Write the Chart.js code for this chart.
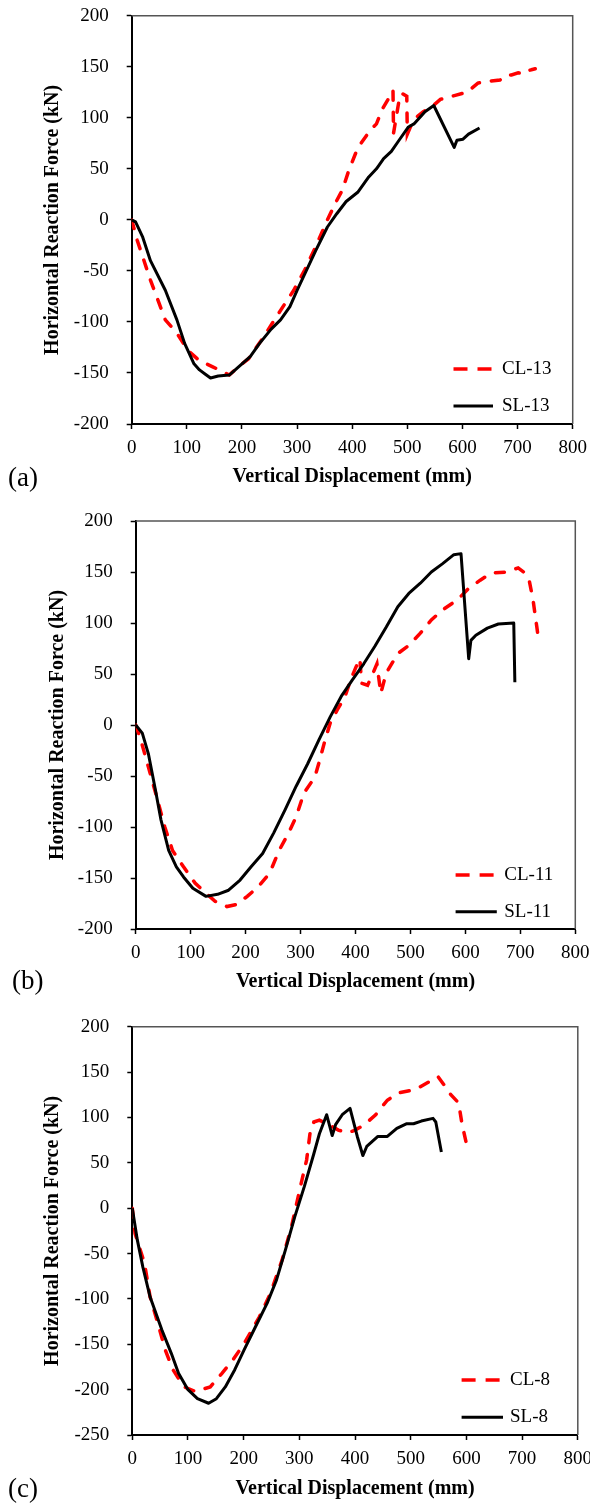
<!DOCTYPE html>
<html>
<head>
<meta charset="utf-8">
<script src="https://cdn.jsdelivr.net/npm/chart.js@4.4.1/dist/chart.umd.min.js"></script>
<style>
  body { margin: 0; background: #fff; width: 590px; height: 1506px; position: relative; overflow: hidden; }
  canvas { position: absolute; left: 0; }
  .tag { position: absolute; font-family: 'Liberation Serif', 'Times New Roman', serif; font-size: 27px; line-height: 1; color: #000; }
</style>
</head>
<body>
<canvas id="chartA" width="590" height="500" style="top:0"></canvas>
<canvas id="chartB" width="590" height="500" style="top:500px"></canvas>
<canvas id="chartC" width="590" height="506" style="top:1000px"></canvas>
<div class="tag" style="left:8px;top:464px">(a)</div>
<div class="tag" style="left:12px;top:967px">(b)</div>
<div class="tag" style="left:8px;top:1475px">(c)</div>
<script>
// (a) CL-13 / SL-13
var cl13X = [0, 10, 34, 61, 82, 102, 123, 147, 177, 198, 212, 239, 266, 294, 314, 334, 355, 372, 382, 393, 406, 416, 433, 444, 454, 464, 474, 475, 485, 490, 499, 500, 511, 529, 547, 560, 587, 608, 628, 650, 668, 680, 689, 701, 710, 717, 725, 732];
var cl13Y = [0, -20, -59, -98, -111, -128, -138, -144, -152, -142, -136, -115, -92, -69, -49, -26, 0, 19, 29, 47, 65, 75, 88, 94, 108, 117, 127, 85, 117, 124, 121, 84, 98, 106, 112, 118, 122, 125, 134, 136, 137, 142, 142, 144, 143, 146, 147, 148];
var sl13X = [0, 7, 20, 34, 61, 82, 96, 113, 123, 133, 143, 157, 177, 198, 215, 232, 253, 270, 287, 300, 314, 334, 355, 372, 389, 410, 430, 444, 457, 471, 485, 502, 512, 532, 548, 585, 590, 601, 611, 631];
var sl13Y = [0, -2, -17, -40, -69, -98, -121, -141, -147, -151, -155, -153, -152, -142, -134, -121, -107, -98, -85, -69, -53, -30, -7, 6, 18, 27, 42, 50, 60, 67, 78, 91, 94, 106, 112, 71, 78, 79, 84, 90];

// (b) CL-11 / SL-11
var cl11X = [0, 9, 23, 40, 53, 67, 87, 108, 128, 145, 166, 183, 203, 224, 244, 261, 278, 292, 306, 326, 333, 343, 354, 367, 381, 391, 401, 408, 411, 422, 432, 439, 446, 456, 477, 497, 518, 538, 559, 586, 606, 627, 647, 675, 696, 706, 716, 723, 730, 734];
var cl11Y = [0, -14, -41, -74, -100, -123, -139, -155, -165, -173, -178, -176, -168, -158, -145, -123, -106, -90, -67, -51, -38, -18, 2, 15, 28, 44, 57, 65, 41, 39, 51, 60, 31, 51, 70, 78, 90, 103, 113, 123, 134, 142, 149, 150, 154, 150, 142, 123, 96, 80];
var sl11X = [0, 12, 23, 36, 46, 60, 74, 87, 104, 128, 149, 169, 190, 210, 231, 251, 272, 292, 313, 333, 354, 374, 394, 415, 435, 456, 477, 497, 518, 538, 558, 579, 592, 606, 610, 619, 640, 660, 688, 690];
var sl11Y = [0, -8, -28, -64, -93, -123, -139, -149, -160, -168, -166, -162, -152, -139, -126, -106, -83, -60, -38, -15, 8, 28, 44, 60, 77, 96, 116, 129, 139, 150, 158, 167, 168, 65, 83, 88, 95, 99, 100, 42];

// (c) CL-8 / SL-8
var cl8X = [0, 5, 22, 32, 46, 59, 73, 93, 113, 140, 161, 181, 201, 228, 248, 269, 286, 302, 313, 319, 326, 336, 350, 370, 387, 400, 417, 437, 458, 478, 502, 512, 532, 549, 562, 572, 586, 592, 600];
var cl8Y = [0, -28, -61, -98, -127, -156, -178, -197, -202, -197, -182, -167, -149, -120, -94, -57, -20, 24, 53, 82, 95, 97, 93, 86, 83, 86, 92, 103, 119, 127, 130, 132, 139, 145, 134, 125, 116, 93, 71];
var sl8X = [0, 9, 19, 32, 53, 70, 83, 100, 117, 137, 151, 167, 184, 201, 221, 242, 259, 275, 292, 309, 326, 336, 349, 359, 365, 377, 391, 404, 414, 421, 441, 458, 475, 492, 505, 519, 540, 545, 555];
var sl8Y = [0, -35, -65, -98, -134, -160, -182, -200, -210, -215, -210, -197, -178, -156, -131, -105, -79, -46, -9, 24, 60, 82, 103, 80, 92, 103, 110, 79, 58, 68, 79, 79, 88, 93, 93, 96, 99, 95, 62];

var xTicks = { min: 0, max: 800, step: 100 };

Chart.defaults.font.family = "'Liberation Serif', 'Times New Roman', serif";
Chart.defaults.color = '#000';

function points(xs, ys) {
  return xs.map(function (x, i) { return { x: x, y: ys[i] }; });
}

// box top/right edges + key in lower right corner
var frameAndKey = {
  id: 'frameAndKey',
  afterDraw: function (chart, args, opts) {
    var ctx = chart.ctx, a = chart.chartArea;
    ctx.save();
    ctx.strokeStyle = '#555';
    ctx.lineWidth = 1.5;
    ctx.beginPath();
    ctx.moveTo(a.left, a.top);
    ctx.lineTo(a.right, a.top);
    ctx.lineTo(a.right, a.bottom);
    ctx.stroke();
    chart.data.datasets.forEach(function (ds, i) {
      var y = a.bottom - opts.rows[i];
      ctx.strokeStyle = ds.borderColor;
      ctx.lineWidth = ds.borderWidth;
      ctx.lineCap = 'butt';
      ctx.setLineDash(ds.borderDash ? [14, 10] : []);
      ctx.beginPath();
      ctx.moveTo(a.right - opts.line[0], y);
      ctx.lineTo(a.right - opts.line[1], y);
      ctx.stroke();
      ctx.setLineDash([]);
      ctx.fillStyle = '#000';
      ctx.font = "19px 'Liberation Serif', 'Times New Roman', serif";
      ctx.textBaseline = 'middle';
      ctx.fillText(ds.label, a.right - opts.textX, y);
    });
    ctx.restore();
  }
};

function noPad(s) {
  s.paddingTop = 0; s.paddingBottom = 0; s.paddingLeft = 0; s.paddingRight = 0;
}

function makePanel(id, p) {
  new Chart(document.getElementById(id), {
    type: 'line',
    data: {
      datasets: [
        { label: p.clName, data: points(p.clX, p.clY), borderColor: '#ff0000', borderWidth: 3.5,
          borderDash: [9, 12], borderCapStyle: 'round', order: 1 },
        { label: p.slName, data: points(p.slX, p.slY), borderColor: '#000000', borderWidth: 3,
          borderJoinStyle: 'round', order: 0 }
      ]
    },
    options: {
      responsive: false,
      devicePixelRatio: 1,
      animation: false,
      elements: { point: { radius: 0 }, line: { tension: 0 } },
      layout: { padding: { left: 0, top: p.top, right: 590 - p.right, bottom: 0 } },
      plugins: {
        legend: { display: false },
        tooltip: { enabled: false },
        frameAndKey: p.key
      },
      scales: {
        x: {
          type: 'linear', min: xTicks.min, max: xTicks.max,
          ticks: { stepSize: xTicks.step, font: { size: 19 }, color: '#000', padding: 8, maxRotation: 0 },
          grid: { drawOnChartArea: false, tickLength: 5, color: '#000', tickColor: '#000', tickWidth: 1.5 },
          border: { color: '#000', width: 2 },
          title: { display: true, text: 'Vertical Displacement (mm)', color: '#000',
                   font: { size: 20, weight: 'bold' }, padding: { top: 0, bottom: p.xTitlePad } },
          afterFit: function (s) { s.height = p.h - p.bottom; noPad(s); }
        },
        y: {
          type: 'linear', min: p.yMin, max: 200,
          ticks: { stepSize: 50, font: { size: 19 }, color: '#000', padding: 18 },
          grid: { drawOnChartArea: false, tickLength: 5, color: '#000', tickColor: '#000', tickWidth: 1.5 },
          border: { color: '#000', width: 2 },
          title: { display: true, text: 'Horizontal Reaction Force (kN)', color: '#000',
                   font: { size: 20, weight: 'bold' }, padding: { top: p.yTitlePad, bottom: 0 } },
          afterFit: function (s) { s.width = p.left; noPad(s); }
        }
      }
    },
    plugins: [frameAndKey]
  });
}

makePanel('chartA', {
  clName: 'CL-13', slName: 'SL-13', clX: cl13X, clY: cl13Y, slX: sl13X, slY: sl13Y,
  h: 500, left: 131.7, top: 15.7, right: 572.7, bottom: 424, yMin: -200,
  xTitlePad: 11, yTitlePad: 40.5,
  key: { line: [119.2, 79.7], textX: 70.7, rows: [55, 18] }
});
makePanel('chartB', {
  clName: 'CL-11', slName: 'SL-11', clX: cl11X, clY: cl11Y, slX: sl11X, slY: sl11Y,
  h: 500, left: 135.7, top: 21, right: 575.3, bottom: 429, yMin: -200,
  xTitlePad: 6, yTitlePad: 46,
  key: { line: [119.7, 78.5], textX: 71, rows: [54, 17.3] }
});
makePanel('chartC', {
  clName: 'CL-8', slName: 'SL-8', clX: cl8X, clY: cl8Y, slX: sl8X, slY: sl8Y,
  h: 506, left: 132.3, top: 26.7, right: 577.8, bottom: 435, yMin: -250,
  xTitlePad: 5.5, yTitlePad: 40.6,
  key: { line: [116.2, 74.8], textX: 67.8, rows: [55, 17.7] }
});
</script>
</body>
</html>
